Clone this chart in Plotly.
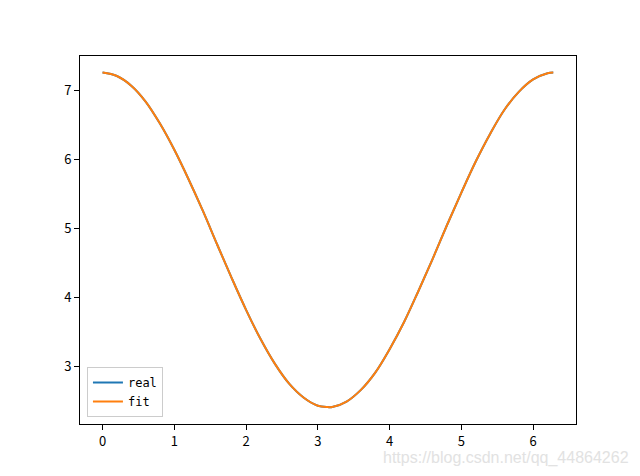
import plotly.graph_objects as go

x_vals = [0.0, 0.2, 0.4, 0.6, 0.8, 1.0, 1.2, 1.4, 1.6, 1.8, 2.0, 2.2, 2.4, 2.6, 2.8, 3.0,
          3.14, 3.2, 3.4, 3.6, 3.8, 4.0, 4.2, 4.4, 4.6, 4.8, 5.0, 5.2, 5.4, 5.6, 5.8, 6.0, 6.2, 6.28]
real_vals = [7.26, 7.21, 7.07, 6.84, 6.52, 6.14, 5.71, 5.25, 4.76, 4.28, 3.82, 3.40, 3.04, 2.75, 2.55, 2.43,
             2.41, 2.41, 2.49, 2.66, 2.91, 3.25, 3.64, 4.09, 4.56, 5.05, 5.52, 5.97, 6.37, 6.72, 6.98, 7.16, 7.25, 7.26]
fit_vals = [7.26, 7.21, 7.07, 6.84, 6.52, 6.14, 5.71, 5.25, 4.76, 4.28, 3.82, 3.40, 3.04, 2.75, 2.55, 2.43,
            2.41, 2.41, 2.49, 2.66, 2.91, 3.25, 3.64, 4.09, 4.56, 5.05, 5.52, 5.97, 6.37, 6.72, 6.98, 7.16, 7.25, 7.26]
x_ticks = [0, 1, 2, 3, 4, 5, 6]
y_ticks = [3, 4, 5, 6, 7]

font_family = "Noto Sans CJK SC, DejaVu Sans, sans-serif"

fig = go.Figure()
fig.add_trace(go.Scatter(x=x_vals, y=real_vals, mode="lines", name="real",
                         line=dict(color="#1f77b4", width=2, shape="spline")))
fig.add_trace(go.Scatter(x=x_vals, y=fit_vals, mode="lines", name="fit",
                         line=dict(color="#ff7f0e", width=2, shape="spline")))

axis_common = dict(showgrid=False, zeroline=False, showline=True, linecolor="black", linewidth=1,
                   mirror=True, ticks="outside", ticklen=5, tickwidth=1, tickcolor="black",
                   tickfont=dict(family=font_family, size=13, color="black"))

fig.update_layout(
    width=632, height=468,
    margin=dict(l=72, r=64, t=48, b=52),
    paper_bgcolor="white", plot_bgcolor="white",
    xaxis=dict(range=[-0.314, 6.597], tickvals=x_ticks, **axis_common),
    yaxis=dict(range=[2.165, 7.50], tickvals=y_ticks, **axis_common),
    legend=dict(x=0.014, y=0.019, xanchor="left", yanchor="bottom",
                bgcolor="white", bordercolor="#cccccc", borderwidth=1,
                font=dict(family="DejaVu Sans Mono, Liberation Mono, monospace", size=12, color="black"),
                itemwidth=30, tracegroupgap=0),
    showlegend=True,
    annotations=[dict(text="https://blog.csdn.net/qq_44864262", xref="paper", yref="paper",
                      x=1.111, y=-0.092, xanchor="right", yanchor="middle", showarrow=False,
                      font=dict(family="Liberation Sans, Arial, sans-serif", size=16, color="#e2e2e2"))],
)

fig.write_html("out.html")
